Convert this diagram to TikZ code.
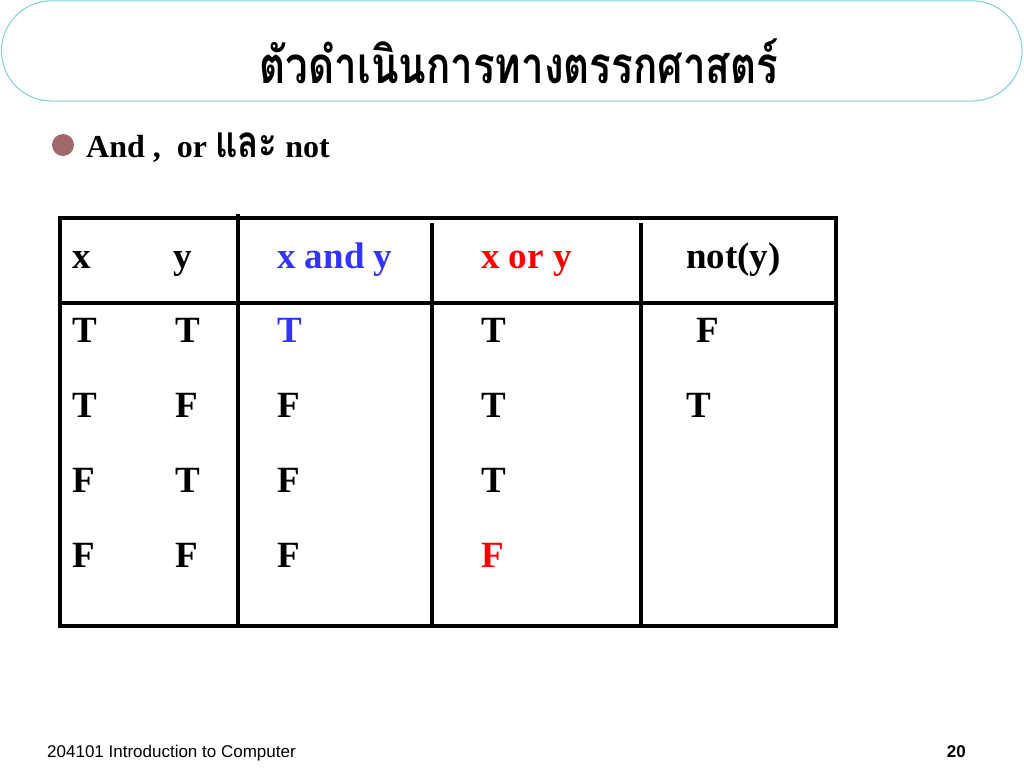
\documentclass[tikz,border=0pt]{standalone}
\usepackage{fontspec}
\setmainfont{Liberation Serif}
\newfontfamily\thaifont[Script=Thai,FakeStretch=0.79]{Loma}
\newfontfamily\footfont{Liberation Sans}
\usetikzlibrary{shapes}
\definecolor{titleline}{RGB}{125,208,216}
\definecolor{bulletcol}{RGB}{160,104,106}
\definecolor{andcol}{RGB}{51,51,255}
\definecolor{orcol}{RGB}{255,0,0}

\begin{document}
\begin{tikzpicture}[x=1pt,y=-1pt]
      \tikzstyle{cell} = [anchor=base west, inner sep=0pt, font=\fontsize{37}{40}\selectfont\bfseries]
      \tikzstyle{rule} = [line width=3.3pt]
      \useasboundingbox (0,0) rectangle (1024,768);
      % title box
      \draw [titleline, line width=1pt, rounded corners=50pt] (1.5,0.8) rectangle (1022,101);
      \node (title) at (519,83) [anchor=base, inner sep=0pt, font=\thaifont\bfseries\fontsize{51}{55}\selectfont] {ตัวดำเนินการทางตรรกศาสตร์};
      % bullet line
      \node (dot) at (63,145) [circle, fill=bulletcol, minimum size=22pt, inner sep=0pt] {};
      \node (point) at (86,157) [anchor=base west, inner sep=0pt, font=\fontsize{32}{36}\selectfont\bfseries] {And ,\enspace or {\thaifont\fontsize{44}{46}\selectfont และ} not};
      % table frame
      \draw [rule] (60,218) rectangle (836,626);
      \draw [rule] (60,303)--(836,303);
      \draw [rule] (238,214)--(238,626);
      \draw [rule] (432,223)--(432,626);
      \draw [rule] (641,223)--(641,626);
      % header row
      \node (hx) at (72,268) [cell] {x};
      \node (hy) at (173,268) [cell] {y};
      \node (hand) at (277,268) [cell, andcol] {x and y};
      \node (hor) at (481,268) [cell, orcol] {x or y};
      \node (hnot) at (686,268) [cell] {not(y)};
      % first row
      \node (ax) at (72,342) [cell] {T};
      \node (ay) at (175,342) [cell] {T};
      \node (aand) at (277,342) [cell, andcol] {T};
      \node (aor) at (481,342) [cell] {T};
      \node (anot) at (696,342) [cell] {F};
      % second row
      \node (bx) at (72,417) [cell] {T};
      \node (by) at (175,417) [cell] {F};
      \node (band) at (277,417) [cell] {F};
      \node (bor) at (481,417) [cell] {T};
      \node (bnot) at (686,417) [cell] {T};
      % third row
      \node (cx) at (72,492) [cell] {F};
      \node (cy) at (175,492) [cell] {T};
      \node (cand) at (277,492) [cell] {F};
      \node (cor) at (481,492) [cell] {T};
      % fourth row
      \node (dx) at (72,567) [cell] {F};
      \node (dy) at (175,567) [cell] {F};
      \node (dand) at (277,567) [cell] {F};
      \node (dor) at (481,567) [cell, orcol] {F};
      % footer
      \node (course) at (47,757) [anchor=base west, inner sep=0pt, font=\footfont\fontsize{17}{18}\selectfont] {204101 Introduction to Computer};
      \node (page) at (966,757) [anchor=base east, inner sep=0pt, font=\footfont\bfseries\fontsize{17}{18}\selectfont] {20};
\end{tikzpicture}
\end{document}
